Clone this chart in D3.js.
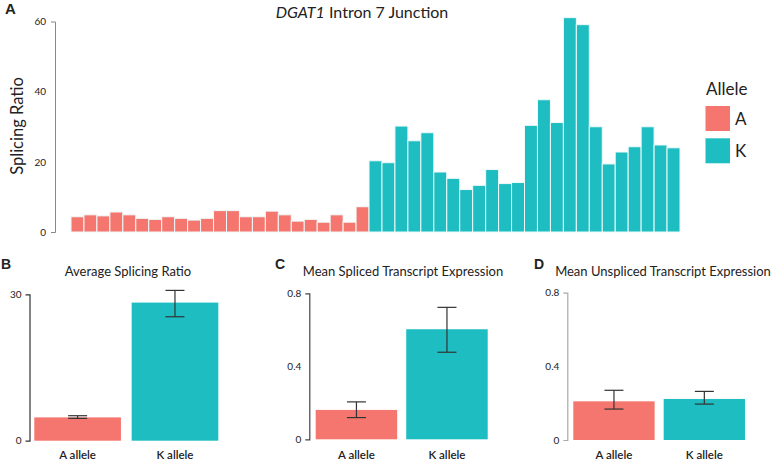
<!DOCTYPE html>
<html><head><meta charset="utf-8">
<script src="https://cdn.jsdelivr.net/npm/d3@7"></script>
<style>
body{margin:0;background:#fff;}
text{font-family:Lato,"Open Sans",sans-serif;fill:#222;}
</style></head>
<body><svg id="c" width="778" height="461"></svg>
<script>
// ---- data ----
const junctionAlleles = ["A","A","A","A","A","A","A","A","A","A","A","A","A","A","A","A","A","A","A","A","A","A","A",
  "K","K","K","K","K","K","K","K","K","K","K","K","K","K","K","K","K","K","K","K","K","K","K","K"];
const junctionRatios = [4.35,4.9,4.6,5.7,4.9,3.9,3.6,4.35,3.9,3.4,3.9,6.1,6.1,4.35,4.35,5.95,4.9,3.1,3.6,2.8,4.9,2.8,7.2,
  20.3,19.75,30.2,26.0,28.3,17.1,15.3,12.1,13.3,17.8,13.8,14.1,30.4,37.7,31.2,61.1,59.1,30.0,19.4,22.8,24.3,30.0,24.8,24.0];
const ticksA = [0,20,40,60];
const groups = ["A allele","K allele"];
const avgRatio = [4.78, 28.3], avgRatioLo = [4.58, 25.4], avgRatioHi = [5.12, 30.8];
const splicedMean = [0.161, 0.603], splicedLo = [0.119, 0.477], splicedHi = [0.205, 0.723];
const unsplicedMean = [0.21, 0.223], unsplicedLo = [0.168, 0.195], unsplicedHi = [0.27, 0.264];
const legendKeys = ["A","K"];
const colors = {A:"#F5766E", K:"#1DBDC2"};

const svg = d3.select("#c");

// ---- Panel A ----
const xA = d3.scaleBand().domain(d3.range(junctionRatios.length)).range([71,680]).padding(0);
const yA = d3.scaleLinear().domain([0,60]).range([232,21.5]);
svg.append("g").selectAll("rect").data(junctionRatios).join("rect")
  .attr("x",(d,i)=>xA(i)).attr("width",xA.bandwidth())
  .attr("y",d=>yA(d)).attr("height",d=>yA(0)-yA(d))
  .attr("fill",(d,i)=>colors[junctionAlleles[i]])
  .attr("stroke","#eefafa").attr("stroke-width",1);
const axA = svg.append("g").attr("transform","translate(55,0)")
  .call(d3.axisLeft(yA).tickValues(ticksA).tickSizeInner(0).tickSizeOuter(4).tickPadding(9));
axA.select(".domain").attr("stroke","#888");
axA.selectAll("text").style("font-size","10px").attr("fill","#222");

svg.append("text").attr("x",5).attr("y",14).style("font-size","15px").style("font-weight","bold")
  .style("font-family","Arial, Liberation Sans, sans-serif").text("A");
const tA = svg.append("text").attr("x",362).attr("y",18).attr("text-anchor","middle").style("font-size","16px");
tA.append("tspan").style("font-style","italic").text("DGAT1");
tA.append("tspan").text(" Intron 7 Junction");
svg.append("text").attr("transform","translate(23,126) rotate(-90)").attr("text-anchor","middle")
  .style("font-size","16.5px").text("Splicing Ratio");

// legend
svg.append("text").attr("x",706).attr("y",95).style("font-size","17px").text("Allele");
legendKeys.forEach((k,i)=>{
  svg.append("rect").attr("x",705.5).attr("y",106+i*32.3).attr("width",24.5).attr("height",25).attr("fill",colors[k]);
  svg.append("text").attr("x",735).attr("y",125+i*32.3).style("font-size","17px").text(k);
});

// ---- small panels ----
function panel(opt){
  const x = d3.scaleBand().domain(groups).range(opt.xr).paddingInner(opt.pad).paddingOuter(0);
  const y = d3.scaleLinear().domain(opt.dom).range(opt.yr);
  const g = svg.append("g");
  g.selectAll("rect").data(groups).join("rect")
    .attr("x",d=>x(d)).attr("width",x.bandwidth())
    .attr("y",(d,i)=>y(opt.mean[i])).attr("height",(d,i)=>y(0)-y(opt.mean[i]))
    .attr("fill",(d,i)=>colors[legendKeys[i]]);
  groups.forEach((d,i)=>{
    const cx = x(d)+x.bandwidth()/2, hw = 9.5;
    const e = g.append("g").attr("stroke","#333").attr("stroke-width",1.2);
    e.append("line").attr("x1",cx).attr("x2",cx).attr("y1",y(opt.lo[i])).attr("y2",y(opt.hi[i]));
    e.append("line").attr("x1",cx-hw).attr("x2",cx+hw).attr("y1",y(opt.lo[i])).attr("y2",y(opt.lo[i]));
    e.append("line").attr("x1",cx-hw).attr("x2",cx+hw).attr("y1",y(opt.hi[i])).attr("y2",y(opt.hi[i]));
    g.append("text").attr("x",cx).attr("y",459).attr("text-anchor","middle")
      .style("font-size","11.5px").style("font-weight","600").text(d);
  });
  const ax = g.append("g").attr("transform",`translate(${opt.ax},0)`)
    .call(d3.axisLeft(y).tickValues(opt.ticks).tickFormat(d3.format("~g")).tickSizeInner(0).tickSizeOuter(4).tickPadding(8));
  ax.select(".domain").attr("stroke",opt.axc).attr("stroke-width",1.2);
  ax.selectAll("text").style("font-size","10px").attr("fill","#222");
  g.append("text").attr("x",opt.tx).attr("y",276).attr("text-anchor","middle").style("font-size","13px").text(opt.title);
  g.append("text").attr("x",opt.lx).attr("y",269).style("font-size","14px").style("font-weight","bold")
    .style("font-family","Arial, Liberation Sans, sans-serif").text(opt.letter);
}
panel({xr:[34.3,218.3],pad:0.11,dom:[0,30],yr:[440.7,294.3],ax:29.5,ticks:[0,30],axc:"#333",
  mean:avgRatio,lo:avgRatioLo,hi:avgRatioHi,title:"Average Splicing Ratio",tx:128,letter:"B",lx:1});
panel({xr:[315.7,487.7],pad:0.1,dom:[0,0.8],yr:[439.3,293.3],ax:309.3,ticks:[0,0.4,0.8],axc:"#444",
  mean:splicedMean,lo:splicedLo,hi:splicedHi,title:"Mean Spliced Transcript Expression",tx:403,letter:"C",lx:275});
panel({xr:[573.3,745],pad:0.1,dom:[0,0.8],yr:[440,292.7],ax:567.3,ticks:[0,0.4,0.8],axc:"#aaa",
  mean:unsplicedMean,lo:unsplicedLo,hi:unsplicedHi,title:"Mean Unspliced Transcript Expression",tx:663,letter:"D",lx:534});
</script></body></html>
